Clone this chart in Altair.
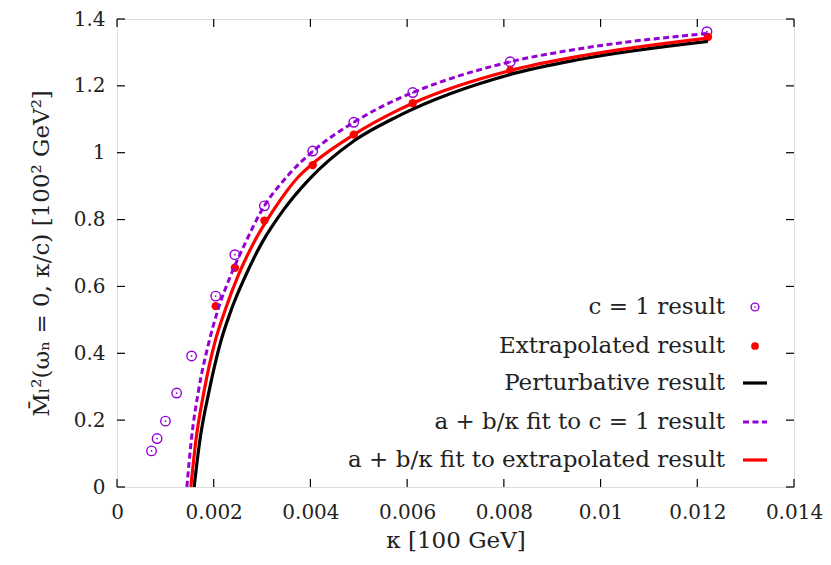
import altair as alt
import pandas as pd

# c = 1 result (open circles)
k_c1 = [0.000714, 0.000829, 0.001002, 0.001234, 0.001543, 0.002041, 0.002438,
        0.003048, 0.004047, 0.004896, 0.006116, 0.008133, 0.01220]
m_c1 = [0.108, 0.145, 0.197, 0.281, 0.392, 0.571, 0.695,
        0.841, 1.005, 1.091, 1.180, 1.272, 1.362]

# Extrapolated result (filled red)
k_ext = [0.002041, 0.002438, 0.003048, 0.004047, 0.004896, 0.006116, 0.008133, 0.01222]
m_ext = [0.541, 0.656, 0.797, 0.963, 1.054, 1.148, 1.246, 1.346]

# a + b/kappa fit to c = 1 result
k_fit_c1 = [0.001445, 0.001535, 0.001683, 0.001903, 0.002094, 0.002349, 0.002657,
            0.002998, 0.003512, 0.004055, 0.004896, 0.005823, 0.006116, 0.008133,
            0.009524, 0.01222]
m_fit_c1 = [0.0, 0.138, 0.286, 0.434, 0.533, 0.632, 0.731,
            0.829, 0.928, 1.005, 1.091, 1.162, 1.180, 1.272,
            1.310, 1.357]

# a + b/kappa fit to extrapolated result
k_fit_ext = [0.001527, 0.001630, 0.0018, 0.002026, 0.002246, 0.002505, 0.002828,
             0.003239, 0.003753, 0.004061, 0.004896, 0.005823, 0.006116, 0.008133,
             0.00973, 0.01222]
m_fit_ext = [0.0, 0.138, 0.286, 0.434, 0.533, 0.632, 0.731,
             0.829, 0.928, 0.969, 1.054, 1.128, 1.148, 1.246,
             1.293, 1.343]

# Perturbative result
k_pert = [0.001595, 0.001712, 0.001903, 0.002144, 0.002370, 0.002658, 0.002999,
          0.003444, 0.003958, 0.004896, 0.005823, 0.008133, 0.009524, 0.01222]
m_pert = [0.0, 0.138, 0.286, 0.434, 0.533, 0.632, 0.731,
          0.829, 0.918, 1.035, 1.110, 1.234, 1.278, 1.333]

x_ticks = [0, 0.002, 0.004, 0.006, 0.008, 0.010, 0.012, 0.014]
y_ticks = [0, 0.2, 0.4, 0.6, 0.8, 1.0, 1.2, 1.4]

legend_labels = ["c = 1 result", "Extrapolated result", "Perturbative result",
                 "a + b/κ fit to c = 1 result", "a + b/κ fit to extrapolated result"]

PURPLE = "#9400D3"
RED = "#FF0000"
BLACK = "#000000"
FONT = "DejaVu Serif"
TXT = "#222222"

W, H = 677, 468
xs = alt.Scale(domain=[0, 0.014], nice=False, zero=False)
ys = alt.Scale(domain=[0, 1.4], nice=False, zero=False)

xaxis = alt.Axis(values=x_ticks, format=".3~f", ticks=False, domain=False, grid=False,
                 labelFontSize=20, labelFont=FONT, labelColor=TXT, labelPadding=15,
                 labelFlush=False, labelOverlap=False,
                 title="κ [100 GeV]", titleFont=FONT, titleFontSize=23,
                 titleFontWeight="normal", titleColor=TXT, titlePadding=7)
yaxis = alt.Axis(values=y_ticks, format=".1~f", ticks=False, domain=False, grid=False,
                 labelFontSize=20, labelFont=FONT, labelColor=TXT, labelPadding=12,
                 labelFlush=False, labelOverlap=False,
                 title="M̄ₗ²(ωₙ = 0, κ/c) [100² GeV²]", titleFont=FONT, titleFontSize=23,
                 titleFontWeight="normal", titleColor=TXT, titlePadding=20)


def X(f):
    return alt.X(f, scale=xs, axis=xaxis)


def Y(f):
    return alt.Y(f, scale=ys, axis=yaxis)


df_c1 = pd.DataFrame({"k": k_c1, "m": m_c1})
df_ext = pd.DataFrame({"k": k_ext, "m": m_ext})
df_fc1 = pd.DataFrame({"k": k_fit_c1, "m": m_fit_c1})
df_fext = pd.DataFrame({"k": k_fit_ext, "m": m_fit_ext})
df_pert = pd.DataFrame({"k": k_pert, "m": m_pert})

c1_pts = alt.Chart(df_c1).mark_point(shape="circle", filled=False, size=90, strokeWidth=1.4,
                                     color=PURPLE, opacity=1).encode(x=X("k:Q"), y=Y("m:Q"))
c1_dots = alt.Chart(df_c1).mark_point(shape="circle", filled=True, size=3, color=PURPLE,
                                      opacity=1).encode(x=X("k:Q"), y=Y("m:Q"))
ext_pts = alt.Chart(df_ext).mark_circle(size=70, color=RED, opacity=1).encode(
    x=X("k:Q"), y=Y("m:Q"))

pert_line = alt.Chart(df_pert).mark_line(color=BLACK, strokeWidth=3.2,
                                         interpolate="monotone").encode(x=X("k:Q"), y=Y("m:Q"))
fc1_line = alt.Chart(df_fc1).mark_line(color=PURPLE, strokeWidth=3, strokeDash=[6, 3.5],
                                       interpolate="monotone").encode(x=X("k:Q"), y=Y("m:Q"))
fext_line = alt.Chart(df_fext).mark_line(color=RED, strokeWidth=3.2,
                                         interpolate="monotone").encode(x=X("k:Q"), y=Y("m:Q"))

# inward ticks on all four sides
dfx = pd.DataFrame({"k": x_ticks})
dfy = pd.DataFrame({"m": y_ticks})
TL = 8
tick_b = alt.Chart(dfx).mark_rule(color=BLACK, strokeWidth=1.2).encode(
    x=X("k:Q"), y=alt.value(H), y2=alt.value(H - TL))
tick_t = alt.Chart(dfx).mark_rule(color=BLACK, strokeWidth=1.2).encode(
    x=X("k:Q"), y=alt.value(0), y2=alt.value(TL))
tick_l = alt.Chart(dfy).mark_rule(color=BLACK, strokeWidth=1.2).encode(
    y=Y("m:Q"), x=alt.value(0), x2=alt.value(TL))
tick_r = alt.Chart(dfy).mark_rule(color=BLACK, strokeWidth=1.2).encode(
    y=Y("m:Q"), x=alt.value(W - TL), x2=alt.value(W))

# legend
ROW_Y = [288, 327, 364, 403, 441]
TX, SX, LX1, LX2 = 608, 638, 626, 650
leg = []
for lab, yy in zip(legend_labels, ROW_Y):
    leg.append(alt.Chart(pd.DataFrame({"t": [lab]})).mark_text(
        align="right", baseline="middle", font=FONT, fontSize=23, color=TXT, dy=0).encode(
        x=alt.value(TX), y=alt.value(yy), text="t:N"))
one = pd.DataFrame({"a": [0]})
leg.append(alt.Chart(one).mark_point(shape="circle", filled=False, size=60, strokeWidth=1.4,
                                     color=PURPLE, opacity=1).encode(
    x=alt.value(SX), y=alt.value(ROW_Y[0])))
leg.append(alt.Chart(one).mark_point(shape="circle", filled=True, size=3, color=PURPLE,
                                     opacity=1).encode(x=alt.value(SX), y=alt.value(ROW_Y[0])))
leg.append(alt.Chart(one).mark_circle(size=60, color=RED, opacity=1).encode(
    x=alt.value(SX), y=alt.value(ROW_Y[1])))
leg.append(alt.Chart(one).mark_rule(color=BLACK, strokeWidth=3.2).encode(
    x=alt.value(LX1), x2=alt.value(LX2), y=alt.value(ROW_Y[2])))
leg.append(alt.Chart(one).mark_rule(color=PURPLE, strokeWidth=3, strokeDash=[6, 3.5]).encode(
    x=alt.value(LX1), x2=alt.value(LX2), y=alt.value(ROW_Y[3])))
leg.append(alt.Chart(one).mark_rule(color=RED, strokeWidth=3.2).encode(
    x=alt.value(LX1), x2=alt.value(LX2), y=alt.value(ROW_Y[4])))

chart = alt.layer(
    c1_pts, c1_dots, ext_pts, pert_line, fc1_line, fext_line,
    tick_b, tick_t, tick_l, tick_r, *leg
).properties(
    width=W, height=H,
    autosize=alt.AutoSizeParams(type="none"),
    padding={"left": 109, "top": 11, "right": 29, "bottom": 70},
).configure_view(
    stroke=BLACK, strokeWidth=1.5
).configure_axis(
    labelFont=FONT, titleFont=FONT, labelColor=TXT, titleColor=TXT
).configure(background="white", font=FONT)

chart.save("out.html", embed_options={"renderer": "svg", "actions": False})
